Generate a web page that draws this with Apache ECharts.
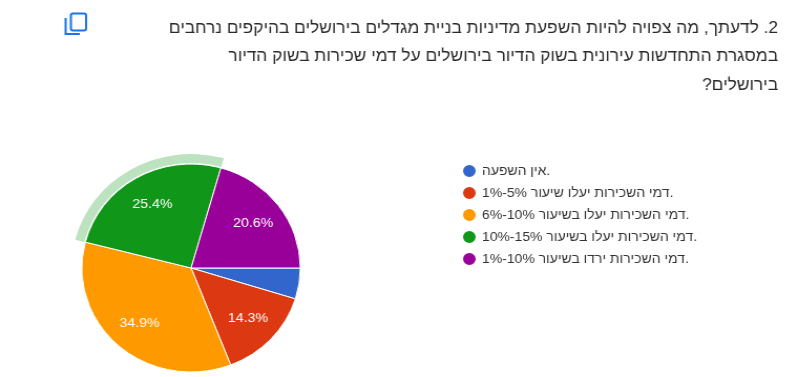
<!DOCTYPE html>
<html>
<head>
<meta charset="utf-8">
<style>
  html, body { margin: 0; padding: 0; background: #fff; overflow: hidden; }
  /* the source screenshot is stretched a little sideways */
  #chart { width: 768px; height: 377px; transform: scaleX(1.05); transform-origin: 0 0; }
</style>
</head>
<body>
<div id="chart"></div>
<script src="https://cdn.jsdelivr.net/npm/echarts@6/dist/echarts.min.js"></script>
<script>
const categories = [
  'אין השפעה.',
  'דמי השכירות יעלו שיעור 5%-1%.',
  'דמי השכירות יעלו בשיעור 10%-6%.',
  'דמי השכירות יעלו בשיעור 15%-10%.',
  'דמי השכירות ירדו בשיעור 10%-1%.'
];
const values = [4.8, 14.3, 34.9, 25.4, 20.6];
const colors = ['#3366cc', '#dc3912', '#ff9900', '#109618', '#990099'];
const questionLines = [
  '2. לדעתך, מה צפויה להיות השפעת מדיניות בניית מגדלים בירושלים בהיקפים נרחבים',
  'במסגרת התחדשות עירונית בשוק הדיור בירושלים על דמי שכירות בשוק הדיור',
  'בירושלים?'
];
const highlighted = 3;

const font = '"Liberation Sans", Arial, sans-serif';
const center = [182, 268];

const chart = echarts.init(document.getElementById('chart'));

// question text, right aligned
const lineY = [28, 56, 85];
const questionText = questionLines.map(function(line, i) {
  return {
    type: 'text',
    silent: true,
    x: 741,
    y: lineY[i],
    style: {
      text: '\u202B' + line + '\u202C',
      align: 'right',
      verticalAlign: 'middle',
      font: '16.5px ' + font,
      fill: '#2a2a2a'
    }
  };
});

chart.setOption({
  animation: false,
  color: colors,
  legend: {
    orient: 'vertical',
    left: 434,
    top: 158,
    icon: 'circle',
    itemWidth: 14,
    itemHeight: 14,
    itemGap: 6,
    data: categories,
    textStyle: { fontFamily: font, fontSize: 13.3, color: '#333', padding: [0, 0, 0, 0] }
  },
  graphic: questionText.concat([
    {
      // copy icon
      type: 'group',
      x: 62,
      y: 12,
      silent: true,
      children: [
        { type: 'rect', shape: { x: 5.5, y: 1.5, width: 14.5, height: 17, r: 2 }, style: { fill: 'none', stroke: '#1a73e8', lineWidth: 2 } },
        { type: 'polyline', shape: { points: [[0.5, 6], [0.5, 22], [14, 22]] }, style: { fill: 'none', stroke: '#1a73e8', lineWidth: 2 } }
      ]
    }
  ]),
  series: [
    {
      name: 'answers',
      type: 'pie',
      center: center,
      radius: [0, 104],
      startAngle: 0,
      clockwise: true,
      label: { show: false },
      labelLine: { show: false },
      itemStyle: { borderColor: '#fff', borderWidth: 1 },
      data: values.map(function(v, i) {
        return { name: categories[i], value: v };
      })
    },
    {
      name: 'highlight',
      type: 'pie',
      silent: true,
      center: center,
      radius: [105, 114],
      startAngle: 0,
      clockwise: true,
      label: { show: false },
      labelLine: { show: false },
      data: values.map(function(v, i) {
        return {
          name: categories[i],
          value: v,
          itemStyle: { color: i === highlighted ? 'rgba(16,150,24,0.28)' : 'rgba(0,0,0,0)' }
        };
      })
    },
    {
      // only carries the labels, they sit further out than the slice middle
      name: 'labels',
      type: 'pie',
      silent: true,
      center: center,
      radius: [40, 102],
      startAngle: 0,
      clockwise: true,
      itemStyle: { color: 'rgba(0,0,0,0)' },
      labelLine: { show: false },
      label: {
        show: true,
        position: 'inside',
        fontFamily: font,
        fontSize: 13.5,
        color: '#fff',
        formatter: function(p) { return p.value < 5 ? '' : p.value.toFixed(1) + '%'; }
      },
      data: values.map(function(v, i) {
        return { name: categories[i], value: v };
      })
    }
  ]
});
</script>
</body>
</html>
